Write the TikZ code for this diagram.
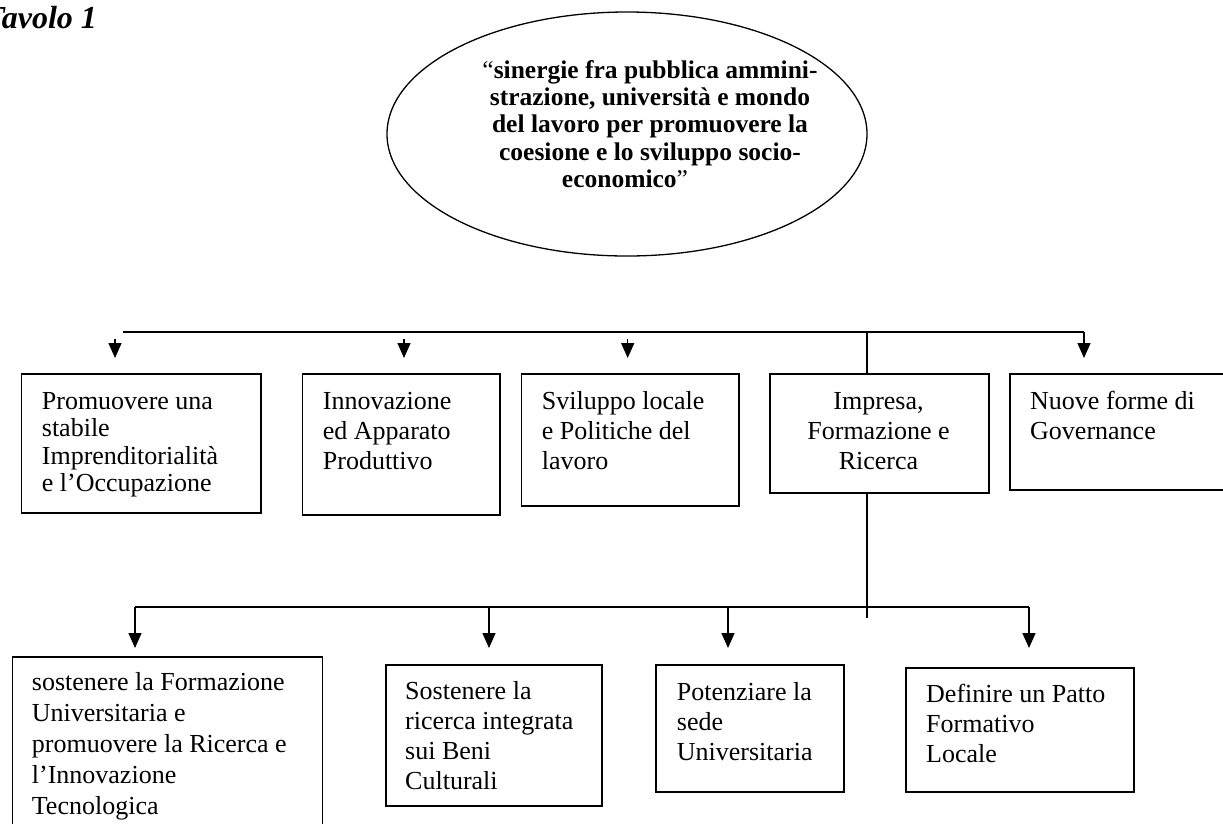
\documentclass[tikz,border=0pt]{standalone}
\usepackage{fontspec}
\setmainfont{Liberation Serif}
\usetikzlibrary{arrows.meta,shapes.geometric}
\newcommand\bodyfont{\fontsize{26}{30}\selectfont}
\newcommand\tightfont{\fontsize{26}{27.5}\selectfont}
\newcommand\loosefont{\fontsize{26}{31}\selectfont}
\newcommand\ovalfont{\bfseries\fontsize{25.5}{27.3}\selectfont}
\newcommand\mkbox[5]{\node[box, minimum width={(#4-#2)*1pt}, minimum height={(#5-#3)*1pt}] (#1) at (#2,#3) {};}
\tikzset{
  box/.style={draw, line width=1.6pt, inner sep=0pt, anchor=north west},
  txt/.style={inner sep=0pt, anchor=north west, align=left, font=\bodyfont},
  bus/.style={line width=1.5pt},
  arr/.style={line width=1.5pt, -{Triangle[length=15pt,width=13pt]}},
}
\begin{document}
\begin{tikzpicture}[x=1pt,y=-1pt]
\fill[white] (0,0) rectangle (1223,823);
\useasboundingbox (0,0) rectangle (1223,823);

% title
\node[anchor=base west, inner sep=0pt, font=\bfseries\itshape\fontsize{32}{36}\selectfont] (title) at (-15,28) {Tavolo 1};

% oval
\node[ellipse, draw, line width=1.3pt, minimum width=480pt, minimum height=244pt, inner sep=0pt] (oval) at (627,134) {};
\node[anchor=north, align=center, inner sep=0pt, font=\ovalfont] (ovalt) at (650,58.9)
  {\strut{\mdseries “}sinergie fra pubblica ammini-\\strazione, università e mondo\\del lavoro per promuovere la\\coesione e lo sviluppo socio-\\economico{\mdseries ”}\hspace*{50pt}};

% top row boxes
\mkbox{t1}{20.7}{373}{260}{512}
\mkbox{t2}{301.7}{373}{499}{514}
\mkbox{t3}{520.7}{373}{738}{505}
\mkbox{t4}{769}{373}{988}{492}
\mkbox{t5}{1009}{373}{1240}{489}

\node[txt, font=\tightfont] (t1t) at (41.7,389.75) {\strut Promuovere una\\stabile\\Imprenditorialità\\e l’Occupazione};
\node[txt] (t2t) at (322.7,388) {\strut Innovazione\\ed Apparato\\Produttivo};
\node[txt] (t3t) at (541.7,388) {\strut Sviluppo locale\\e Politiche del\\lavoro};
\node[txt, anchor=north, align=center] (t4t) at (878.5,388) {\strut Impresa,\\Formazione e\\Ricerca};
\node[txt] (t5t) at (1030,388) {\strut Nuove forme di\\Governance};

% bottom row boxes
\mkbox{b1}{11.7}{656}{321.7}{840}
\mkbox{b2}{385}{664}{601}{805}
\mkbox{b3}{655}{664}{843}{791}
\mkbox{b4}{905}{667}{1133}{791}

\node[txt, font=\loosefont] (b1t) at (31.7,668.3) {\strut sostenere la Formazione\\Universitaria e\\promuovere la Ricerca e\\l’Innovazione\\Tecnologica};
\node[txt] (b2t) at (405,678) {\strut Sostenere la\\ricerca integrata\\sui Beni\\Culturali};
\node[txt] (b3t) at (676.7,679) {\strut Potenziare la\\sede\\Universitaria};
\node[txt] (b4t) at (926,681) {\strut Definire un Patto\\Formativo\\Locale};

% top bus
\coordinate (busL) at (123,332);
\coordinate (busR) at (1084,332);
\coordinate (imp) at (867,332);
\draw[bus] (busL) -- (busR);
\coordinate (a1s) at (115,339);  \coordinate (a1e) at (115,358);
\coordinate (a2s) at (404,339);  \coordinate (a2e) at (404,358);
\coordinate (a3s) at (627.7,339);\coordinate (a3e) at (627.7,358);
\coordinate (a5e) at (1084,358);
\draw[arr] (a1s) -- (a1e);
\draw[arr] (a2s) -- (a2e);
\draw[arr] (a3s) -- (a3e);
\draw[arr] (busR) -- (a5e);
\draw[bus] (imp) -- (imp |- t4.north);

% bottom bus
\coordinate (down) at (867,618);
\draw[bus] (imp |- t4.south) -- (down);
\coordinate (lbusL) at (135,607);
\coordinate (lbusR) at (1029,607);
\draw[bus] (lbusL) -- (lbusR);
\coordinate (d2) at (489,607);
\coordinate (d3) at (728,607);
\draw[arr] (lbusL) -- (135,648);
\draw[arr] (d2) -- (489,648);
\draw[arr] (d3) -- (728,648);
\draw[arr] (lbusR) -- (1029,648);
\end{tikzpicture}
\end{document}
